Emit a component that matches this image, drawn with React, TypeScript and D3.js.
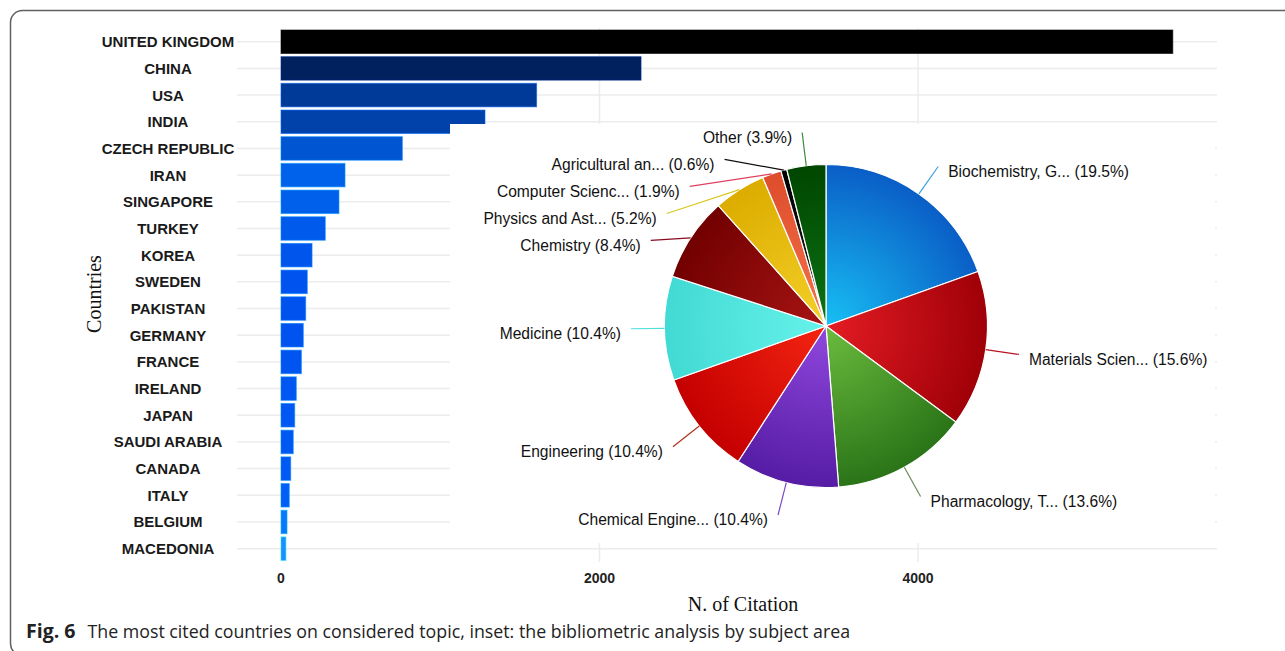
import React from 'react';
import * as d3 from 'd3';

// ---------- data ----------
const countries = [
  'UNITED KINGDOM', 'CHINA', 'USA', 'INDIA', 'CZECH REPUBLIC', 'IRAN', 'SINGAPORE', 'TURKEY',
  'KOREA', 'SWEDEN', 'PAKISTAN', 'GERMANY', 'FRANCE', 'IRELAND', 'JAPAN', 'SAUDI ARABIA',
  'CANADA', 'ITALY', 'BELGIUM', 'MACEDONIA',
];
const citations = [5600, 2261, 1605, 1281, 762, 402, 364, 278, 195, 165, 155, 140, 128, 96, 86, 77, 61, 52, 38, 31];
const xTicks = [0, 2000, 4000];

const colorStopValues = [31, 38, 55, 150, 400, 762, 1281, 1605, 2261, 5600];
const colorStopColors = ['#1a90ff', '#0a78fa', '#005af4', '#0052ee', '#0062ea', '#0056d2', '#0042aa', '#003a98', '#00205e', '#000000'];

const subjects = [
  'Biochemistry, G...', 'Materials Scien...', 'Pharmacology, T...', 'Chemical Engine...',
  'Engineering', 'Medicine', 'Chemistry', 'Physics and Ast...', 'Computer Scienc...',
  'Agricultural an...', 'Other',
];
const shares = [19.5, 15.6, 13.6, 10.4, 10.4, 10.4, 8.4, 5.2, 1.9, 0.6, 3.9];
const sliceLight = ['#18c0f4', '#e41c24', '#6cbc3e', '#9048de', '#f42412', '#66f2ea', '#a81414', '#f4d028', '#f4744c', '#202020', '#0c7414'];
const sliceDark = ['#0a5ec6', '#a00008', '#2a7418', '#561ca4', '#c40000', '#42dad4', '#720000', '#dcac00', '#de4c2c', '#000000', '#004600'];
const leaderColors = ['#3aa0d8', '#b81020', '#6a8a5a', '#7a4ac0', '#b03020', '#50e0dc', '#8a0a20', '#d8c820', '#e04060', '#101010', '#3a8a3a'];

// ---------- layout ----------
const W = 1285;
const H = 651;
const plotLeft = 281;
const plotRight = 1217;
const plotTop = 28.4;
const plotBottom = 562;
const gridLeft = 237;
const labelCenterX = 168;
const inset = { x: 450, y: 124, w: 765, h: 419 };
const pieCx = 826;
const pieCy = 326;
const pieR = 161.5;
const labelR = 195;
const labelGap = 27;

export default function App() {
  const x = d3.scaleLinear().domain([0, 4000]).range([plotLeft, 918]);
  const y = d3
    .scaleBand<string>()
    .domain(countries)
    .range([plotTop, plotBottom])
    .paddingInner(0.12)
    .paddingOuter(0.06);
  const color = d3
    .scaleLinear<string>()
    .domain(colorStopValues)
    .range(colorStopColors)
    .interpolate(d3.interpolateRgb)
    .clamp(true);

  const pie = d3.pie<number>().sort(null).value((d) => d);
  const arcs = pie(shares);
  const arcGen = d3.arc<d3.PieArcDatum<number>>().innerRadius(0).outerRadius(pieR);

  const pt = (a: number, r: number) => [pieCx + r * Math.sin(a), pieCy - r * Math.cos(a)];

  type L = { i: number; sx: number; sy: number; ex: number; ey: number; right: boolean };
  const labels: L[] = arcs.map((a, i) => {
    const mid = (a.startAngle + a.endAngle) / 2;
    const [sx, sy] = pt(mid, pieR);
    const [ex, ey] = pt(mid, labelR);
    return { i, sx, sy, ex, ey, right: mid < Math.PI };
  });
  const relax = (side: L[]) => {
    side.sort((a, b) => a.ey - b.ey);
    for (let k = 1; k < side.length; k++) {
      const prev = side[k - 1];
      const cur = side[k];
      if (cur.ey < prev.ey + labelGap) {
        cur.ey = prev.ey + labelGap;
        const dy = cur.ey - pieCy;
        const dx = Math.sqrt(Math.max(0, labelR * labelR - dy * dy));
        cur.ex = cur.right ? pieCx + dx : pieCx - dx;
      }
    }
  };
  relax(labels.filter((l) => l.right));
  relax(labels.filter((l) => !l.right));

  const sansFont = "'Liberation Sans', Arial, sans-serif";
  const serifFont = "'Liberation Serif', 'Times New Roman', serif";

  return (
    <svg width={W} height={H} style={{ position: 'absolute', left: 0, top: 0, background: '#fff' }}>
      <defs>
        {shares.map((_, i) => (
          <radialGradient key={i} id={`sg${i}`} gradientUnits="userSpaceOnUse" cx={0} cy={0} r={pieR}>
            <stop offset="0" stopColor={sliceLight[i]} />
            <stop offset="1" stopColor={sliceDark[i]} />
          </radialGradient>
        ))}
      </defs>
      <rect x={0} y={0} width={W} height={H} fill="#fff" />
      <rect x={10.5} y={10.5} width={1300} height={645} rx={12} ry={12} fill="none" stroke="#606060" strokeWidth={1.5} />

      {/* gridlines */}
      {countries.map((c) => (
        <line
          key={c}
          x1={gridLeft}
          x2={plotRight}
          y1={(y(c) as number) + y.bandwidth() / 2}
          y2={(y(c) as number) + y.bandwidth() / 2}
          stroke="#ececec"
          strokeWidth={1.5}
        />
      ))}
      {xTicks.filter((t) => t > 0).map((t) => (
        <line key={t} x1={x(t)} x2={x(t)} y1={plotTop} y2={plotBottom} stroke="#ececec" strokeWidth={1.5} />
      ))}

      {/* bars */}
      {countries.map((c, i) => (
        <rect
          key={c}
          x={x(0)}
          y={y(c)}
          width={x(citations[i]) - x(0)}
          height={y.bandwidth()}
          fill={color(citations[i])}
          stroke={d3.color(color(citations[i]))!.brighter(1.2).formatHex()}
          strokeOpacity={0.6}
          strokeWidth={1}
        />
      ))}

      {/* country labels */}
      {countries.map((c) => (
        <text
          key={c}
          x={labelCenterX}
          y={(y(c) as number) + y.bandwidth() / 2}
          dy="0.36em"
          textAnchor="middle"
          fontFamily={sansFont}
          fontWeight="bold"
          fontSize={15}
          fill="#1a1a1a"
        >
          {c}
        </text>
      ))}

      {/* x ticks */}
      {xTicks.map((t) => (
        <text key={t} x={x(t)} y={583} textAnchor="middle" fontFamily={sansFont} fontWeight="bold" fontSize={14} fill="#222">
          {t}
        </text>
      ))}

      {/* axis titles */}
      <text x={743} y={611} textAnchor="middle" fontFamily={serifFont} fontSize={20} fill="#111">
        N. of Citation
      </text>
      <text
        transform={`translate(101, ${294}) rotate(-90)`}
        textAnchor="middle"
        fontFamily={serifFont}
        fontSize={20}
        fill="#111"
      >
        Countries
      </text>

      {/* inset */}
      <rect x={inset.x} y={inset.y} width={inset.w} height={inset.h} fill="#fff" />
      <g transform={`translate(${pieCx},${pieCy})`}>
        {arcs.map((a, i) => (
          <path key={i} d={arcGen(a) as string} fill={`url(#sg${i})`} stroke="#fff" strokeWidth={1.2} />
        ))}
      </g>
      {labels.map((l) => (
        <g key={l.i}>
          <line x1={l.sx} y1={l.sy} x2={l.ex} y2={l.ey} stroke={leaderColors[l.i]} strokeWidth={1.2} />
          <text
            x={l.right ? l.ex + 10 : l.ex - 10}
            y={l.ey + 5}
            dy="0.35em"
            textAnchor={l.right ? 'start' : 'end'}
            fontFamily={sansFont}
            fontSize={15.6}
            fill="#111"
          >
            {`${subjects[l.i]} (${shares[l.i].toFixed(1)}%)`}
          </text>
        </g>
      ))}

      {/* caption */}
      <text x={26} y={638} fontFamily="'Open Sans', 'Noto Sans', sans-serif" fontSize={17.8} fill="#222">
        <tspan fontWeight="bold" fontSize={19.5}>Fig. 6</tspan>
        <tspan dx={12}>The most cited countries on considered topic, inset: the bibliometric analysis by subject area</tspan>
      </text>
    </svg>
  );
}
